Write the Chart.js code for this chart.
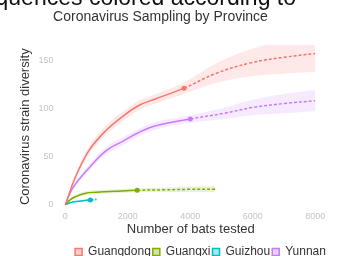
<!DOCTYPE html>
<html>
<head>
<meta charset="utf-8">
<script src="https://cdn.jsdelivr.net/npm/chart.js@4"></script>
<style>
  body { margin: 0; background: #fff; }
  #wrap { width: 339px; height: 256px; }
</style>
</head>
<body>
<div id="wrap"><canvas id="chart" width="339" height="256"></canvas></div>
<script>
// provinces and their colours
const provinces = ['Guangdong', 'Guangxi', 'Guizhou', 'Yunnan'];
const colors = ['#F8766D', '#7CAE00', '#00BFC4', '#C77CFF'];

// sample sizes (bats tested) and diversity for each curve
const gdX = [0, 300, 750, 1300, 1850, 2350, 2900, 3800, 4800, 5900, 7000, 8000];
const gdY = [0, 27, 56, 77, 92, 103, 110, 121, 136, 147, 153, 157];
const gdLo = [0, 24, 52, 72, 87, 98, 105, 115, 126, 133, 136, 138];
const gdHi = [0, 30, 60, 82, 97, 108, 115, 127, 146, 161, 170, 176];
const gdObs = 3800;

const gxX = [0, 150, 300, 650, 1000, 1600, 2300, 3200, 4000, 4800];
const gxY = [0, 5, 8, 12, 13, 14, 15, 15.5, 16, 16];
const gxLo = [0, 4, 6, 10, 11, 12, 13, 13, 13, 13];
const gxHi = [0, 6, 10, 14, 15, 16, 17, 18, 19, 19];
const gxObs = 2300;

const gzX = [0, 200, 500, 800, 1000];
const gzY = [0, 2.5, 4, 5, 5.5];
const gzLo = [0, 2, 3, 4, 4];
const gzHi = [0, 3, 5, 6, 7];
const gzObs = 800;

const ynX = [0, 230, 750, 1300, 1850, 2350, 2900, 4000, 5100, 6000, 7000, 8000];
const ynY = [0, 17, 38, 56, 66, 75, 82, 89, 95, 101, 105, 108];
const ynLo = [0, 15, 35, 52, 62, 71, 78, 85, 89, 93, 95, 97];
const ynHi = [0, 19, 41, 60, 70, 79, 86, 93, 101, 109, 115, 119];
const ynObs = 4000;

const xTicks = [0, 2000, 4000, 6000, 8000];
const yTicks = [0, 50, 100, 150];

function pts(xs, ys) { return xs.map((x, i) => ({ x: x, y: ys[i] })); }

function hexA(hex, a) {
  const n = parseInt(hex.slice(1), 16);
  return 'rgba(' + (n >> 16) + ',' + ((n >> 8) & 255) + ',' + (n & 255) + ',' + a + ')';
}

const series = [
  [gdX, gdY, gdLo, gdHi, gdObs],
  [gxX, gxY, gxLo, gxHi, gxObs],
  [gzX, gzY, gzLo, gzHi, gzObs],
  [ynX, ynY, ynLo, ynHi, ynObs]
];

const datasets = [];
series.forEach((s, i) => {
  const c = colors[i];
  const obs = s[4];
  datasets.push({
    label: provinces[i],
    data: pts(s[0], s[1]),
    borderColor: c,
    backgroundColor: hexA(c, 0.35),
    borderWidth: 1.5,
    tension: 0.4,
    pointRadius: s[0].map(x => x === obs ? 2.5 : 0),
    pointBackgroundColor: c,
    pointBorderWidth: 0,
    segment: { borderDash: ctx => ctx.p0.parsed.x >= obs ? [3, 2] : undefined },
    order: 0
  });
  datasets.push({
    label: '_hi' + i,
    data: pts(s[0], s[3]),
    borderWidth: 0,
    pointRadius: 0,
    tension: 0.4,
    fill: '+1',
    backgroundColor: hexA(c, 0.16),
    order: 1
  });
  datasets.push({
    label: '_lo' + i,
    data: pts(s[0], s[2]),
    borderWidth: 0,
    pointRadius: 0,
    tension: 0.4,
    fill: false,
    order: 1
  });
});

// big heading, cropped at the top of the picture
const headline = {
  id: 'headline',
  afterLayout(chart) {
    // nudge subtitle left and legend right, like the original figure
    chart.titleBlock.left -= 10; chart.titleBlock.right -= 10;
    chart.legend.left += 30; chart.legend.right += 30;
  },
  afterDraw(chart) {
    const c = chart.ctx;
    c.save();
    c.font = '23px "Liberation Sans", Arial, sans-serif';
    c.fillStyle = '#111';
    c.textAlign = 'right';
    c.textBaseline = 'alphabetic';
    c.fillText('Coronavirus sequences colored according to', 296, 5);
    c.restore();
  }
};

new Chart(document.getElementById('chart'), {
  type: 'line',
  data: { datasets: datasets },
  plugins: [headline],
  options: {
    responsive: false,
    animation: false,
    layout: { padding: { top: 9, right: 14, left: 16, bottom: -12 } },
    plugins: {
      title: {
        display: true,
        text: 'Coronavirus Sampling by Province',
        color: '#333',
        font: { family: 'Liberation Sans', size: 14, weight: 'normal' },
        padding: { top: 0, bottom: 19 }
      },
      legend: {
        position: 'bottom',
        labels: {
          filter: item => !item.text.startsWith('_'),
          boxWidth: 7,
          boxHeight: 7,
          padding: 2,
          color: '#333',
          font: { family: 'Liberation Sans', size: 12 }
        }
      },
      tooltip: { enabled: false }
    },
    scales: {
      x: {
        type: 'linear',
        min: -280,
        max: 8315,
        afterBuildTicks: axis => { axis.ticks = xTicks.map(v => ({ value: v })); },
        grid: { display: false, drawTicks: false },
        border: { display: false },
        ticks: { color: '#c4c4c4', font: { family: 'Liberation Sans', size: 9 }, maxRotation: 0, padding: 3, callback: v => String(v) },
        title: { display: true, text: 'Number of bats tested', color: '#333', font: { family: 'Liberation Sans', size: 13 }, padding: { top: -4, bottom: 7 } }
      },
      y: {
        min: -4,
        max: 166,
        afterBuildTicks: axis => { axis.ticks = yTicks.map(v => ({ value: v })); },
        grid: { display: false, drawTicks: false },
        border: { display: false },
        ticks: { color: '#c4c4c4', font: { family: 'Liberation Sans', size: 9 }, padding: 3 },
        title: { display: true, text: 'Coronavirus strain diversity', color: '#333', font: { family: 'Liberation Sans', size: 13 }, padding: 2 }
      }
    }
  }
});
</script>
</body>
</html>
